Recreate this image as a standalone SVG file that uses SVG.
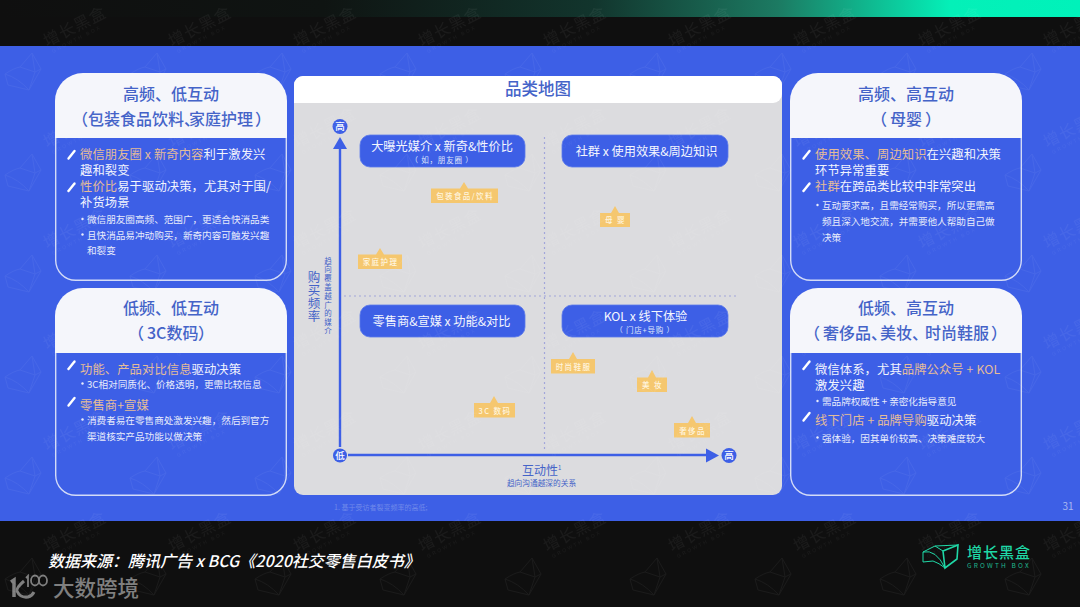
<svg xmlns="http://www.w3.org/2000/svg" width="1080" height="607" viewBox="0 0 1080 607">
<style>
text{font-family:"Noto Sans CJK SC","Liberation Sans",sans-serif}
.h{font-size:16px;fill:#4463c8;font-weight:500}
.hm{text-anchor:middle}
.b{font-size:12.3px;fill:#f2f4fd;letter-spacing:.1px}
.s{font-size:9.6px;fill:#e8ecfb}
.o{fill:#e4bc98}
.pen{stroke:#fff;stroke-width:2.4;stroke-linecap:round;fill:none}
.dot{fill:#e8ecfb}
.pill{fill:#3d5fe6;stroke:#5a78ea;stroke-width:.8}
.pt{font-size:12.2px;fill:#f4f6fe;text-anchor:middle}
.ps{font-size:7.5px;fill:#dfe5fb;text-anchor:middle;letter-spacing:.8px}
.tag{fill:#f5c76f}
.tt{font-size:7.5px;fill:#fff5df;text-anchor:middle;letter-spacing:1.4px;font-weight:500}
.axis{stroke:#3d5fe6;stroke-width:2.4;fill:none}
.ah{fill:#3d5fe6}
.dash{stroke:#a2a6da;stroke-width:1.2;stroke-dasharray:2 3;fill:none}
.c{fill:#3d5fe6}
.ct{font-size:9.5px;fill:#fff;text-anchor:middle;font-weight:500}
.vl{font-size:12.5px;fill:#4463c8;writing-mode:vertical-rl;letter-spacing:.5px}
.vs{font-size:7.5px;fill:#4463c8;writing-mode:vertical-rl;letter-spacing:1.3px}
.wm{font-size:16px;fill:#fff;letter-spacing:1px}
.wm2{font-size:5px;fill:#fff;letter-spacing:2px;font-family:"Liberation Sans",sans-serif}
</style>
<defs>
<linearGradient id="topg" x1="0" x2="1" y1="0" y2="0">
<stop offset="0" stop-color="#0f0f0f"/><stop offset=".3" stop-color="#0f1412"/><stop offset=".55" stop-color="#12352d"/><stop offset=".72" stop-color="#1c7a62"/><stop offset=".88" stop-color="#04f0b8"/><stop offset="1" stop-color="#00f2ba"/>
</linearGradient>
<g id="card">
<path d="M55.700 60V187.300A20 20 0 0 0 75.700 207.300H266.300A20 20 0 0 0 286.300 187.300V60Z" fill="#3d5fe6" stroke="#d3dbf7" stroke-width="1.4"/>
<path d="M55 65V28A28 28 0 0 1 83 0H259A28 28 0 0 1 287 28V65Z" fill="#f5f6fb"/>
</g>
<path id="pen" d="M68.5 158.5L74.5 151" class="pen"/>
<pattern id="wm" width="125" height="101" patternUnits="userSpaceOnUse">
<text class="wm" transform="translate(47 47) rotate(-27)">增长黑盒</text>
<text class="wm2" transform="translate(53 53) rotate(-27)">GROWTH BOX</text>
<path d="M5 74Q14 68 20 67L32 53L41 69L29 90Q18 78 5 74ZM20 67L35 72L29 90M35 72L41 69M32 53L35 72M5 74L8 85L29 90" fill="none" stroke="#fff" stroke-width="1"/>
</pattern>
</defs>

<rect width="1080" height="607" fill="#0f0f0f"/>
<rect width="1080" height="17" fill="url(#topg)"/>
<rect y="46" width="1080" height="475" fill="#3d5fe6"/>

<g id="node-high-low">
<use href="#card" y="73"/>
<text class="h hm" x="171" y="100">高频、低互动</text>
<text class="h" x="72" y="124.500">（包装食品饮料<tspan letter-spacing="-11px">、</tspan>家庭护理<tspan dx="2">）</tspan></text>
<use href="#pen"/>
<text class="b" x="80" y="159"><tspan class="o">微信朋友圈 x 新奇内容</tspan>利于激发兴</text>
<text class="b" x="80" y="175">趣和裂变</text>
<use href="#pen" y="32.5"/>
<text class="b" x="80" y="191"><tspan class="o">性价比</tspan>易于驱动决策，尤其对于围/</text>
<text class="b" x="80" y="207">补货场景</text>
<circle class="dot" cx="82.500" cy="219" r="1.2"/>
<text class="s" x="87" y="223">微信朋友圈高频、范围广，更适合快消品类</text>
<circle class="dot" cx="82.500" cy="234.500" r="1.2"/>
<text class="s" x="87" y="238.500">且快消品易冲动购买，新奇内容可触发兴趣</text>
<text class="s" x="87" y="254">和裂变</text>
</g>

<g id="node-low-low">
<use href="#card" y="288"/>
<text class="h hm" x="171" y="314">低频、低互动</text>
<text class="h" y="338.500"><tspan x="128">（</tspan><tspan x="147">3C数码</tspan><tspan x="198">）</tspan></text>
<use href="#pen" y="210.5"/>
<text class="b" x="80" y="373.500"><tspan class="o">功能、产品对比信息</tspan>驱动决策</text>
<circle class="dot" cx="82.500" cy="383.500" r="1.2"/>
<text class="s" x="87" y="388">3C相对同质化、价格透明，更需比较信息</text>
<use href="#pen" y="247"/>
<text class="b" x="80" y="410"><tspan class="o">零售商+宣媒</tspan></text>
<circle class="dot" cx="82.500" cy="419.500" r="1.2"/>
<text class="s" x="87" y="424">消费者易在零售商处激发兴趣，然后到官方</text>
<text class="s" x="87" y="440">渠道核实产品功能以做决策</text>
</g>

<g id="node-high-high" transform="translate(735 0)">
<use href="#card" y="73"/>
<text class="h hm" x="171" y="100">高频、高互动</text>
<text class="h" y="124.500"><tspan x="136">（</tspan><tspan x="155">母婴</tspan><tspan x="190">）</tspan></text>
<use href="#pen"/>
<text class="b" x="80" y="159"><tspan class="o">使用效果、周边知识</tspan>在兴趣和决策</text>
<text class="b" x="80" y="175">环节异常重要</text>
<use href="#pen" y="32.5"/>
<text class="b" x="80" y="191"><tspan class="o">社群</tspan>在跨品类比较中非常突出</text>
<circle class="dot" cx="82.500" cy="205" r="1.2"/>
<text class="s" x="87" y="209">互动要求高，且需经常购买，所以更需高</text>
<text class="s" x="87" y="225">频且深入地交流，并需要他人帮助自己做</text>
<text class="s" x="87" y="240.500">决策</text>
</g>

<g id="node-low-high" transform="translate(735 0)">
<use href="#card" y="288"/>
<text class="h hm" x="171" y="314">低频、高互动</text>
<text class="h" x="69" y="338.500">（<tspan dx="3">奢侈品</tspan><tspan letter-spacing="-7px">、</tspan>美妆、<tspan dx="-3">时尚鞋服</tspan><tspan dx="2">）</tspan></text>
<use href="#pen" y="210.5"/>
<text class="b" x="80" y="373.500">微信体系，尤其<tspan class="o">品牌公众号 + KOL</tspan></text>
<text class="b" x="80" y="389.500">激发兴趣</text>
<circle class="dot" cx="82.500" cy="401" r="1.2"/>
<text class="s" x="87" y="405">需品牌权威性 + 亲密化指导意见</text>
<use href="#pen" y="262"/>
<text class="b" x="80" y="425"><tspan class="o">线下门店 + 品牌导购</tspan>驱动决策</text>
<circle class="dot" cx="82.500" cy="437.500" r="1.2"/>
<text class="s" x="87" y="441.500">强体验，因其单价较高、决策难度较大</text>
</g>

<g id="panel">
<rect x="294" y="76" width="488" height="419" rx="9" fill="#dcdcdf"/>
<path d="M294 103V85a9 9 0 0 1 9-9H773a9 9 0 0 1 9 9V94a9 9 0 0 1-9 9Z" fill="#fff"/>
<text x="538" y="95" font-size="16.500" fill="#4463c8" text-anchor="middle" font-weight="500">品类地图</text>
</g>

<g id="connectors">
<path class="dash" d="M344 296H737"/>
<path class="dash" d="M544.500 137V450"/>
<path class="axis" d="M340 147V447"/>
<path class="axis" d="M348 455H708"/>
<path class="ah" d="M340 137L347 149H333Z"/>
<path class="ah" d="M719 455.500L706 448.500V462.500Z"/>
</g>

<g id="axis-labels">
<circle class="c" cx="340" cy="126.500" r="7.500"/><text class="ct" x="340" y="130">高</text>
<circle class="c" cx="340" cy="455.500" r="7"/><text class="ct" x="340" y="459">低</text>
<circle class="c" cx="729" cy="455.500" r="7.500"/><text class="ct" x="729" y="459">高</text>
<text class="vl" x="314" y="270.500">购买频率</text>
<text class="vs" x="328" y="257">趋向覆盖越广的媒介</text>
<text y="475" font-size="12px" fill="#4463c8"><tspan x="522">互动性</tspan><tspan font-size="6px" dy="-5">1</tspan></text>
<text x="541.500" y="486" font-size="7.700px" fill="#4463c8" text-anchor="middle">趋向沟通越深的关系</text>
</g>

<g id="node-media1"><rect class="pill" x="360" y="135" width="165" height="32" rx="10"/><text class="pt" x="442" y="151">大曝光媒介 x 新奇&amp;性价比</text><text class="ps" x="442" y="162.500">（ 如，朋友圈 ）</text></g>
<g id="node-media2"><rect class="pill" x="562" y="135" width="166" height="32" rx="10"/><text class="pt" x="646.500" y="155.500">社群 x 使用效果&amp;周边知识</text></g>
<g id="node-media3"><rect class="pill" x="360" y="305" width="165" height="32" rx="10"/><text class="pt" x="441.500" y="325.500">零售商&amp;宣媒 x 功能&amp;对比</text></g>
<g id="node-media4"><rect class="pill" x="562" y="305" width="166" height="32" rx="10"/><text class="pt" x="645.500" y="321">KOL x 线下体验</text><text class="ps" x="645" y="333">（ 门店+导购 ）</text></g>

<g id="tag-food"><path class="tag" d="M431 188.500H460L464 182L468 188.500H498V203H431Z"/><text class="tt" x="465" y="199">包装食品/饮料</text></g>
<g id="tag-home"><path class="tag" d="M358 254.500H376L380 248L384 254.500H402V269H358Z"/><text class="tt" x="380.500" y="264.500">家庭护理</text></g>
<g id="tag-baby"><path class="tag" d="M600 213H611L615 206L619 213H630V227H600Z"/><text class="tt" x="615.500" y="223">母 婴</text></g>
<g id="tag-3c"><path class="tag" d="M474 403H490L494 396L498 403H515V417.500H474Z"/><text class="tt" x="495" y="413.500">3C 数码</text></g>
<g id="tag-fashion"><path class="tag" d="M551 359H569L573 352L577 359H595V373.500H551Z"/><text class="tt" x="573.500" y="369.500">时尚鞋服</text></g>
<g id="tag-beauty"><path class="tag" d="M637 377.500H648L652 370L656 377.500H667V392H637Z"/><text class="tt" x="652.500" y="387.500">美 妆</text></g>
<g id="tag-luxury"><path class="tag" d="M674 423H688L692 416L696 423H710V437.500H674Z"/><text class="tt" x="692.500" y="433.500">奢侈品</text></g>

<text x="334" y="510" font-size="7px" fill="#6f88ea">1. 基于受访者裂变频率的高低;</text>
<text x="1068" y="510" font-size="10px" fill="#a9b8f1" text-anchor="middle" font-family="Liberation Sans">31</text>

<g id="footer">
<text x="48" y="567" font-size="16px" font-style="italic" font-weight="500" fill="#fff">数据来源：腾讯广告 x BCG《2020社交零售白皮书》</text>
<g id="logo-growthbox" fill="none" stroke="#1fd8a6">
<path stroke-width="1.600" d="M958 545L943 551L945 568L957 559Z"/>
<path stroke-width="1" d="M943 551L935 546L923 552V562L933 561Q939 563 945 568M958 545L935 546M923 552Q936 549 945 568"/>
</g>
<text x="967" y="557.500" font-size="15px" fill="#1fd8a6" letter-spacing="1" font-weight="500">增长黑盒</text>
<text x="967" y="568" font-size="6.500px" fill="#1fb98f" letter-spacing="2.200" font-family="Liberation Sans">GROWTH BOX</text>
<g id="logo-kdata" fill="none" stroke="#7f7f7f">
<path stroke-width="3.500" d="M11 582L14 580V597"/>
<path stroke-width="3" d="M24 581Q16 588 17 591Q20 598 28 597Q32 596 34 592"/>
<path stroke-width="1.800" d="M26 578L28 576V587"/>
<ellipse stroke-width="1.800" cx="35" cy="580.500" rx="4" ry="5"/>
<ellipse stroke-width="1.800" cx="43" cy="580.500" rx="4" ry="5"/>
</g>
<text x="53" y="596" font-size="21.500px" fill="#7f7f7f" font-weight="500">大数跨境</text>
</g>

<rect id="watermark" width="1080" height="607" fill="url(#wm)" opacity=".05" pointer-events="none"/>
</svg>
